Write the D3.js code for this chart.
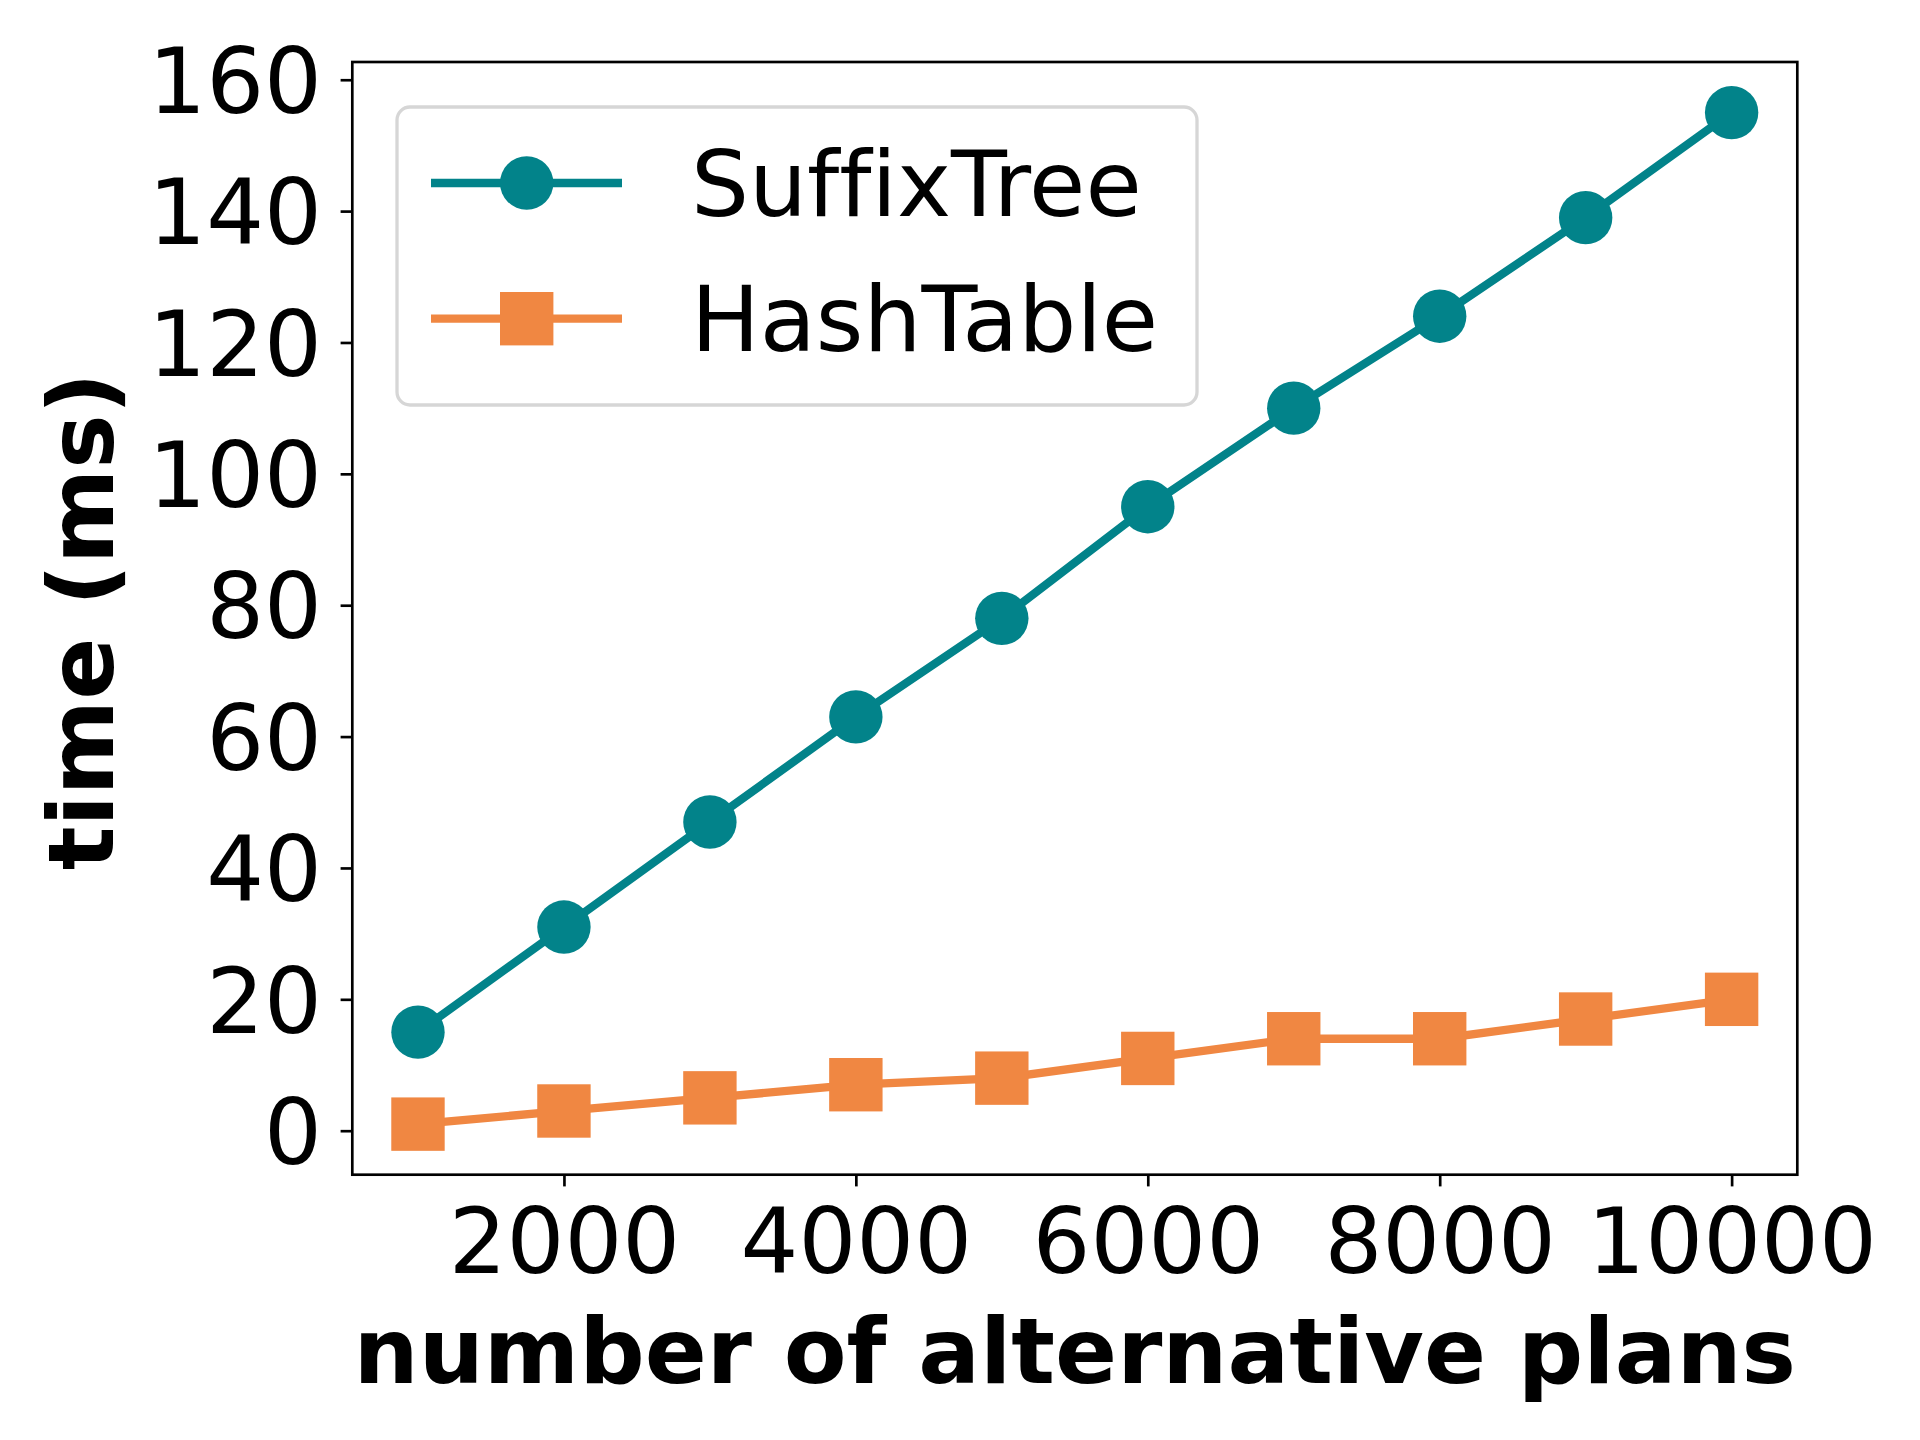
<!DOCTYPE html>
<html>
<head>
<meta charset="utf-8">
<script src="https://cdn.jsdelivr.net/npm/d3@7"></script>
<style>
  body { margin: 0; background: #fff; }
  text { font-family: "DejaVu Sans", sans-serif; fill: #000; font-variant-ligatures: none; font-feature-settings: "liga" 0, "clig" 0; }
</style>
</head>
<body>
<svg id="chart"></svg>
<script>
// plans vs time
var plans = [1000, 2000, 3000, 4000, 5000, 6000, 7000, 8000, 9000, 10000];
var suffixTree = [15, 31, 47, 63, 78, 95, 110, 124, 139, 155];
var hashTable = [1, 3, 5, 7, 8, 11, 14, 14, 17, 20];
var xTicks = [2000, 4000, 6000, 8000, 10000];
var yTicks = [0, 20, 40, 60, 80, 100, 120, 140, 160];
var seriesNames = ["SuffixTree", "HashTable"];

var width = 1920, height = 1440;
// plot box (note: "top" is taken by window, so use box.*)
var box = { l: 352.3, r: 1797.3, t: 62, b: 1174.7 };
var fontSize = 91.5;
var tickFont = 91;
var teal = "#02838a", orange = "#f08742";

var svg = d3.select("#chart").attr("width", width).attr("height", height);
svg.append("rect").attr("width", width).attr("height", height).attr("fill", "#fff");

var x = d3.scaleLinear().domain([550, 10450]).range([box.l, box.r]);
var y = d3.scaleLinear().domain([-6.7, 162.7]).range([box.b, box.t]);

// axes
var xAxis = svg.append("g")
    .attr("transform", "translate(0," + box.b + ")")
    .call(d3.axisBottom(x).tickValues(xTicks).tickSize(11.7).tickPadding(22.4).tickFormat(d3.format("d")));
var yAxis = svg.append("g")
    .attr("transform", "translate(" + box.l + ",0)")
    .call(d3.axisLeft(y).tickValues(yTicks).tickSize(11.7).tickPadding(18.6).tickFormat(d3.format("d")));

[xAxis, yAxis].forEach(function(a) {
  a.select(".domain").remove();
  a.selectAll(".tick line").attr("stroke", "#000").attr("stroke-width", 2.67);
  a.selectAll(".tick text").attr("font-size", tickFont).attr("font-family", "DejaVu Sans").attr("fill", "#000");
});
yAxis.selectAll(".tick text").attr("dy", "0.36em");

// lines + markers
var line = d3.line()
    .x(function(d, i) { return x(plans[i]); })
    .y(function(d) { return y(d); });

svg.append("path").datum(suffixTree)
    .attr("d", line).attr("fill", "none").attr("stroke", teal).attr("stroke-width", 8.3);
svg.selectAll("circle.st").data(suffixTree).enter().append("circle")
    .attr("class", "st")
    .attr("cx", function(d, i) { return x(plans[i]); })
    .attr("cy", function(d) { return y(d); })
    .attr("r", 26.7).attr("fill", teal);

svg.append("path").datum(hashTable)
    .attr("d", line).attr("fill", "none").attr("stroke", orange).attr("stroke-width", 8.3);
svg.selectAll("rect.ht").data(hashTable).enter().append("rect")
    .attr("class", "ht")
    .attr("x", function(d, i) { return x(plans[i]) - 26.7; })
    .attr("y", function(d) { return y(d) - 26.7; })
    .attr("width", 53.4).attr("height", 53.4).attr("fill", orange);

// frame
svg.append("rect")
    .attr("x", box.l).attr("y", box.t)
    .attr("width", box.r - box.l).attr("height", box.b - box.t)
    .attr("fill", "none").attr("stroke", "#000").attr("stroke-width", 2.67);

// legend
var lg = svg.append("g");
lg.append("rect")
    .attr("x", 397).attr("y", 107).attr("width", 800).attr("height", 298)
    .attr("rx", 13).attr("ry", 13)
    .attr("fill", "#fff").attr("fill-opacity", 0.8)
    .attr("stroke", "#d6d6d6").attr("stroke-width", 3.3);

var rows = lg.selectAll("g.row").data(seriesNames).enter().append("g")
    .attr("transform", function(d, i) { return "translate(0," + (183 + i * 135.7) + ")"; });
rows.append("line")
    .attr("x1", 431).attr("x2", 622).attr("y1", 0).attr("y2", 0)
    .attr("stroke", function(d, i) { return i === 0 ? teal : orange; })
    .attr("stroke-width", 8.3);
rows.each(function(d, i) {
  var g = d3.select(this);
  if (i === 0) {
    g.append("circle").attr("cx", 526.7).attr("cy", 0).attr("r", 26.7).attr("fill", teal);
  } else {
    g.append("rect").attr("x", 500).attr("y", -26.7).attr("width", 53.4).attr("height", 53.4).attr("fill", orange);
  }
});
rows.append("text")
    .attr("x", 691).attr("y", 32.5)
    .attr("font-size", fontSize)
    .text(function(d) { return d; });

// axis titles
svg.append("text")
    .attr("x", (box.l + box.r) / 2).attr("y", 1383)
    .attr("text-anchor", "middle")
    .attr("font-size", fontSize).attr("font-weight", "bold")
    .text("number of alternative plans");

svg.append("text")
    .attr("transform", "translate(113," + ((box.t + box.b) / 2 + 3) + ") rotate(-90)")
    .attr("text-anchor", "middle")
    .attr("font-size", fontSize).attr("font-weight", "bold")
    .text("time (ms)");
</script>
</body>
</html>
